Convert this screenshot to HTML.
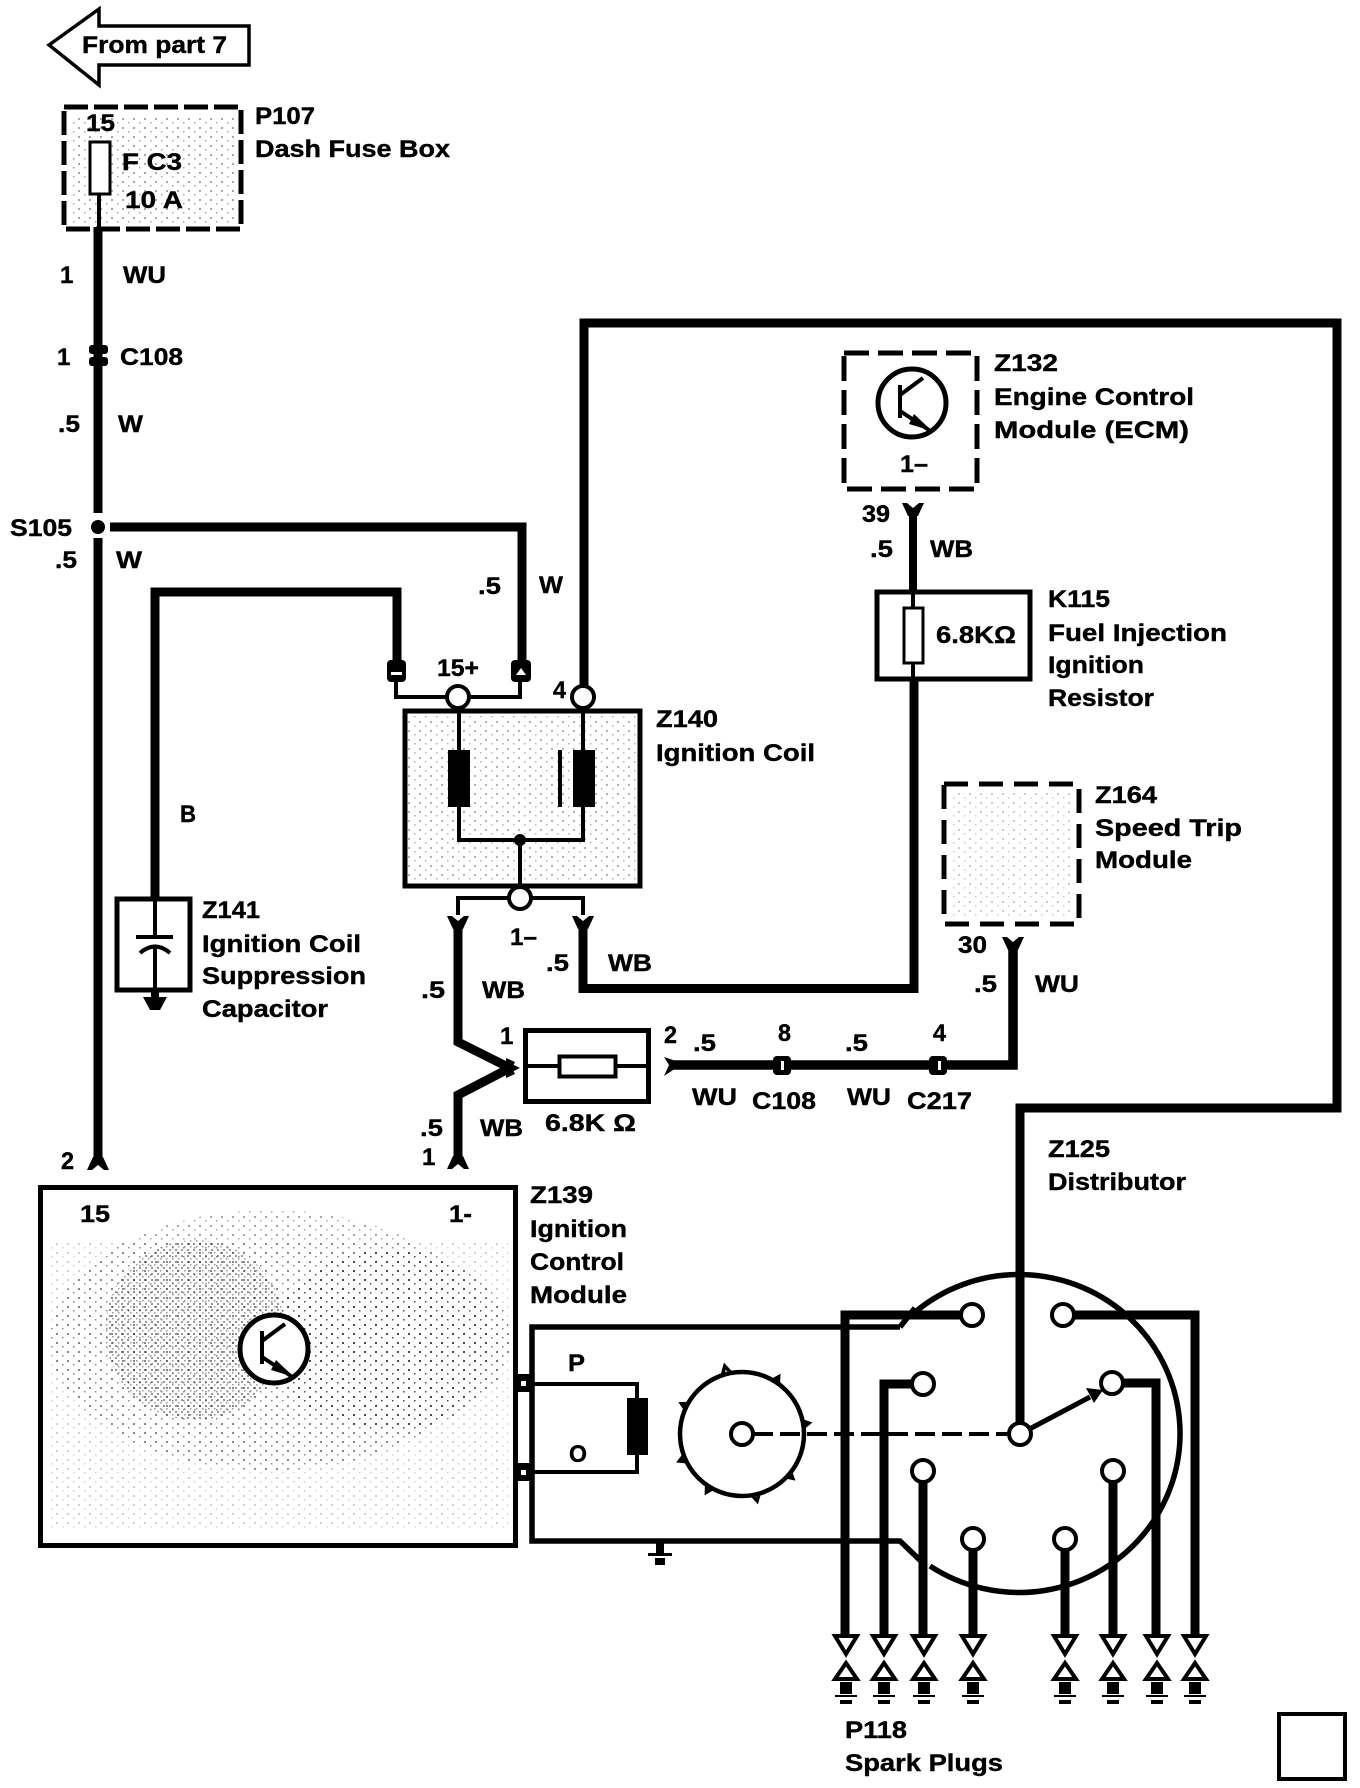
<!DOCTYPE html>
<html><head><meta charset="utf-8"><style>
html,body{margin:0;padding:0;background:#fff}
svg{display:block}
text{font-family:"Liberation Sans",Arial,sans-serif;font-weight:bold;font-size:24px;fill:#000;stroke:#000;stroke-width:.4}
.w{fill:none;stroke:#000;stroke-width:9;stroke-linejoin:miter}
.t{fill:none;stroke:#000;stroke-width:4}
.c{fill:#fff;stroke:#000;stroke-width:4}
</style></head><body>
<svg width="1360" height="1788" viewBox="0 0 1360 1788" xmlns="http://www.w3.org/2000/svg">
<defs>
<pattern id="sp" width="11" height="9" patternUnits="userSpaceOnUse"><rect x="1" y="1" width="2" height="2"/><rect x="7" y="5" width="1.5" height="1.5"/></pattern>
<pattern id="sd" width="6" height="6" patternUnits="userSpaceOnUse"><rect x="1" y="1" width="2" height="2"/><rect x="4" y="4" width="1.5" height="1.5"/></pattern>
<g id="cup"><polygon points="-11,-7 -6,-7 0,-2 6,-7 11,-7 5,6 -5,6"/></g>
<g id="cdown"><polygon points="-11,7 -6,7 0,2 6,7 11,7 5,-6 -5,-6"/></g>
<g id="tr"><circle r="34" fill="#fff" stroke="#000" stroke-width="5"/><path d="M-12,-18V15" class="t"/><path d="M-12,-8L11,-25" class="t"/><path d="M-12,8L17,27" class="t"/><polygon points="2,11 20,28 -3,21"/></g>
<g id="plug"><polygon points="-11,1636 11,1636 0,1654" fill="#fff" stroke="#000" stroke-width="4"/><polygon points="0,1663 11,1679 -11,1679" fill="#fff" stroke="#000" stroke-width="4"/><rect x="-6" y="1682" width="12" height="12"/><rect x="-11" y="1695" width="22" height="2"/><rect x="-6" y="1700" width="12" height="4"/></g>
<g id="tooth"><polygon points="-5,4 5,4 0,-5" fill="#fff" stroke="#000" stroke-width="3.500"/></g>
</defs>

<!-- stipple -->
<rect x="70" y="115" width="165" height="108" fill="url(#sp)" opacity=".35"/>
<rect x="408" y="714" width="228" height="168" fill="url(#sp)" opacity=".3"/>
<rect x="950" y="790" width="122" height="128" fill="url(#sp)" opacity=".2"/>
<rect x="48" y="1240" width="460" height="290" fill="url(#sp)" opacity=".18"/>
<ellipse cx="270" cy="1340" rx="220" ry="130" fill="url(#sp)" opacity=".35"/>
<ellipse cx="195" cy="1330" rx="90" ry="90" fill="url(#sd)" opacity=".4"/>
<ellipse cx="390" cy="1340" rx="120" ry="90" fill="url(#sp)" opacity=".45"/>

<!-- from part 7 -->
<polygon points="49,45 99,9 99,26 249,26 249,65 99,65 99,85" fill="#fff" stroke="#000" stroke-width="3.500"/>
<text x="82" y="53" textLength="145" lengthAdjust="spacingAndGlyphs">From part 7</text>

<!-- P107 -->
<rect x="64" y="107" width="177" height="122" fill="none" stroke="#000" stroke-width="5" stroke-dasharray="24 6"/>
<rect x="90" y="142" width="20" height="52" fill="#fff" stroke="#000" stroke-width="3"/>
<path d="M99,194V228" class="t"/>
<text x="86" y="131" textLength="29" lengthAdjust="spacingAndGlyphs">15</text>
<text x="122" y="170" textLength="60" lengthAdjust="spacingAndGlyphs">F C3</text>
<text x="125" y="208" textLength="58" lengthAdjust="spacingAndGlyphs">10 A</text>
<text x="255" y="124" textLength="60" lengthAdjust="spacingAndGlyphs">P107</text>
<text x="255" y="157" textLength="195" lengthAdjust="spacingAndGlyphs">Dash Fuse Box</text>

<!-- main wire -->
<path d="M98,227V513" class="w"/>
<path d="M98,538V1160" class="w"/>
<rect x="89" y="345" width="19" height="9" rx="3"/><rect x="89" y="357" width="19" height="9" rx="3"/>
<circle cx="98" cy="527" r="7"/>
<use href="#cdown" x="98" y="1163"/>
<text x="60" y="283">1</text>
<text x="123" y="283" textLength="43" lengthAdjust="spacingAndGlyphs">WU</text>
<text x="57" y="365">1</text>
<text x="120" y="365" textLength="63" lengthAdjust="spacingAndGlyphs">C108</text>
<text x="58" y="432" textLength="22" lengthAdjust="spacingAndGlyphs">.5</text>
<text x="118" y="432" textLength="25" lengthAdjust="spacingAndGlyphs">W</text>
<text x="10" y="536" textLength="62" lengthAdjust="spacingAndGlyphs">S105</text>
<text x="55" y="568" textLength="22" lengthAdjust="spacingAndGlyphs">.5</text>
<text x="116" y="568" textLength="26" lengthAdjust="spacingAndGlyphs">W</text>
<text x="61" y="1169" textLength="13" lengthAdjust="spacingAndGlyphs">2</text>

<!-- wires to coil -->
<path d="M110,527H522V660" class="w"/>
<path d="M155,900V592H397V660" class="w"/>
<text x="180" y="822" textLength="16" lengthAdjust="spacingAndGlyphs">B</text>
<text x="478" y="594" textLength="23" lengthAdjust="spacingAndGlyphs">.5</text>
<text x="539" y="593" textLength="24" lengthAdjust="spacingAndGlyphs">W</text>

<!-- top coil connectors -->
<rect x="387" y="660" width="19" height="22" rx="4"/><rect x="391" y="672" width="11" height="3" fill="#fff"/>
<rect x="511" y="660" width="20" height="22" rx="4"/><polygon points="516,675 526,675 521,668" fill="#fff"/>
<path d="M396,682V697H520V682" class="t"/>

<!-- Z140 -->
<rect x="405" y="711" width="235" height="175" fill="none" stroke="#000" stroke-width="5"/>
<circle cx="458" cy="697" r="11" class="c"/>
<circle cx="583" cy="697" r="11" class="c"/>
<path d="M459,708V840H583V708" class="t"/>
<rect x="448" y="750" width="22" height="57"/>
<rect x="573" y="750" width="22" height="57"/>
<rect x="558" y="750" width="4" height="57"/>
<circle cx="520" cy="840" r="6"/>
<path d="M520,840V887" class="t"/>
<path d="M458,915V898H583V915" class="t"/>
<circle cx="520" cy="898" r="11" class="c"/>
<text x="437" y="676" textLength="42" lengthAdjust="spacingAndGlyphs">15+</text>
<text x="553" y="698" textLength="13" lengthAdjust="spacingAndGlyphs">4</text>
<text x="510" y="945" textLength="27" lengthAdjust="spacingAndGlyphs">1&#8211;</text>
<text x="656" y="727" textLength="62" lengthAdjust="spacingAndGlyphs">Z140</text>
<text x="656" y="761" textLength="159" lengthAdjust="spacingAndGlyphs">Ignition Coil</text>

<!-- lower coil connectors + wires -->
<use href="#cup" x="458" y="923"/>
<use href="#cup" x="583" y="923"/>
<path d="M458,928V1042L510,1068L458,1095V1160" class="w"/>
<use href="#cdown" x="458" y="1162"/>
<path d="M583,928V988.500H914V680" class="w"/>
<text x="546" y="971" textLength="23" lengthAdjust="spacingAndGlyphs">.5</text>
<text x="608" y="971" textLength="44" lengthAdjust="spacingAndGlyphs">WB</text>
<text x="421" y="998" textLength="24" lengthAdjust="spacingAndGlyphs">.5</text>
<text x="482" y="998" textLength="43" lengthAdjust="spacingAndGlyphs">WB</text>
<text x="500" y="1044">1</text>
<text x="420" y="1136" textLength="23" lengthAdjust="spacingAndGlyphs">.5</text>
<text x="480" y="1136" textLength="43" lengthAdjust="spacingAndGlyphs">WB</text>
<text x="422" y="1165">1</text>
<polygon points="506,1058 515,1062 512,1068 515,1074 506,1078"/>

<!-- 6.8K box -->
<rect x="525.500" y="1030.500" width="123" height="71" fill="none" stroke="#000" stroke-width="5"/>
<path d="M528,1066H648" class="t"/>
<rect x="559.500" y="1056.500" width="56" height="20" fill="#fff" stroke="#000" stroke-width="4"/>
<text x="545" y="1131" textLength="91" lengthAdjust="spacingAndGlyphs">6.8K &#937;</text>

<!-- WU wire -->
<path d="M670,1065H1013V945" class="w" style="stroke-width:9.500"/>
<polygon points="664,1057 673,1060 678,1065 673,1070 664,1076 669,1065"/>
<rect x="773" y="1056" width="18" height="19" rx="4"/><rect x="781" y="1061" width="3" height="9" fill="#fff"/>
<rect x="929" y="1056" width="18" height="19" rx="4"/><rect x="938" y="1061" width="3" height="9" fill="#fff"/>
<text x="664" y="1043" textLength="13" lengthAdjust="spacingAndGlyphs">2</text>
<text x="693" y="1051" textLength="23" lengthAdjust="spacingAndGlyphs">.5</text>
<text x="778" y="1041" textLength="13" lengthAdjust="spacingAndGlyphs">8</text>
<text x="845" y="1051" textLength="23" lengthAdjust="spacingAndGlyphs">.5</text>
<text x="933" y="1041" textLength="13" lengthAdjust="spacingAndGlyphs">4</text>
<text x="692" y="1105" textLength="45" lengthAdjust="spacingAndGlyphs">WU</text>
<text x="752" y="1109" textLength="64" lengthAdjust="spacingAndGlyphs">C108</text>
<text x="847" y="1105" textLength="44" lengthAdjust="spacingAndGlyphs">WU</text>
<text x="907" y="1109" textLength="65" lengthAdjust="spacingAndGlyphs">C217</text>

<!-- Z164 -->
<rect x="944" y="784" width="135" height="140" fill="none" stroke="#000" stroke-width="5" stroke-dasharray="24 11"/>
<use href="#cup" x="1013" y="944"/>
<text x="958" y="953" textLength="29" lengthAdjust="spacingAndGlyphs">30</text>
<text x="974" y="992" textLength="23" lengthAdjust="spacingAndGlyphs">.5</text>
<text x="1035" y="992" textLength="44" lengthAdjust="spacingAndGlyphs">WU</text>
<text x="1095" y="803" textLength="62" lengthAdjust="spacingAndGlyphs">Z164</text>
<text x="1095" y="836" textLength="147" lengthAdjust="spacingAndGlyphs">Speed Trip</text>
<text x="1095" y="868" textLength="97" lengthAdjust="spacingAndGlyphs">Module</text>

<!-- Z132 -->
<rect x="844" y="353" width="133" height="136" fill="none" stroke="#000" stroke-width="5" stroke-dasharray="25 9"/>
<use href="#tr" x="912" y="403"/>
<text x="900" y="472" textLength="28" lengthAdjust="spacingAndGlyphs">1&#8211;</text>
<use href="#cup" x="913" y="510"/>
<path d="M913,512V592" class="w" style="stroke-width:8"/>
<text x="862" y="522" textLength="28" lengthAdjust="spacingAndGlyphs">39</text>
<text x="870" y="557" textLength="23" lengthAdjust="spacingAndGlyphs">.5</text>
<text x="930" y="557" textLength="43" lengthAdjust="spacingAndGlyphs">WB</text>
<text x="994" y="371" textLength="64" lengthAdjust="spacingAndGlyphs">Z132</text>
<text x="994" y="405" textLength="200" lengthAdjust="spacingAndGlyphs">Engine Control</text>
<text x="994" y="438" textLength="195" lengthAdjust="spacingAndGlyphs">Module (ECM)</text>

<!-- K115 -->
<rect x="877" y="592" width="153" height="87" fill="none" stroke="#000" stroke-width="5"/>
<path d="M913,592V680" class="t"/>
<rect x="904" y="608" width="19" height="55" fill="#fff" stroke="#000" stroke-width="3"/>
<text x="936" y="643" textLength="80" lengthAdjust="spacingAndGlyphs">6.8K&#937;</text>
<text x="1048" y="607" textLength="62" lengthAdjust="spacingAndGlyphs">K115</text>
<text x="1048" y="641" textLength="179" lengthAdjust="spacingAndGlyphs">Fuel Injection</text>
<text x="1048" y="673" textLength="96" lengthAdjust="spacingAndGlyphs">Ignition</text>
<text x="1048" y="706" textLength="106" lengthAdjust="spacingAndGlyphs">Resistor</text>

<!-- Z141 -->
<rect x="117" y="899" width="73" height="91" fill="none" stroke="#000" stroke-width="5"/>
<path d="M155,899V937M155,947V992" class="t"/>
<rect x="136" y="935" width="37" height="4"/>
<path d="M140,953Q155,940 170,953" fill="none" stroke="#000" stroke-width="4"/>
<rect x="151" y="990" width="8" height="10"/>
<polygon points="143,997 167,997 160,1010 150,1010"/>
<text x="202" y="918" textLength="58" lengthAdjust="spacingAndGlyphs">Z141</text>
<text x="202" y="952" textLength="159" lengthAdjust="spacingAndGlyphs">Ignition Coil</text>
<text x="202" y="984" textLength="164" lengthAdjust="spacingAndGlyphs">Suppression</text>
<text x="202" y="1017" textLength="126" lengthAdjust="spacingAndGlyphs">Capacitor</text>

<!-- Z139 -->
<rect x="40.500" y="1187.500" width="475" height="358" fill="none" stroke="#000" stroke-width="5"/>
<use href="#tr" x="274" y="1349"/>
<text x="80" y="1222" textLength="30" lengthAdjust="spacingAndGlyphs">15</text>
<text x="449" y="1222" textLength="23" lengthAdjust="spacingAndGlyphs">1-</text>
<text x="530" y="1203" textLength="63" lengthAdjust="spacingAndGlyphs">Z139</text>
<text x="530" y="1237" textLength="97" lengthAdjust="spacingAndGlyphs">Ignition</text>
<text x="530" y="1270" textLength="94" lengthAdjust="spacingAndGlyphs">Control</text>
<text x="530" y="1303" textLength="97" lengthAdjust="spacingAndGlyphs">Module</text>

<!-- module box + pickup -->
<path d="M900,1327H532V1541H900L925,1565" fill="none" stroke="#000" stroke-width="5.500"/>
<path d="M900,1327L915,1308" fill="none" stroke="#000" stroke-width="5.500"/>
<rect x="515" y="1374" width="18" height="18"/><rect x="521" y="1381" width="5" height="5" fill="#fff"/>
<rect x="515" y="1463" width="18" height="18"/><rect x="521" y="1470" width="5" height="5" fill="#fff"/>
<path d="M532,1384H637V1398M637,1455V1472H532" class="t"/>
<rect x="627" y="1398" width="21" height="57"/>
<text x="568" y="1371" textLength="17" lengthAdjust="spacingAndGlyphs">P</text>
<text x="569" y="1462" textLength="18" lengthAdjust="spacingAndGlyphs">O</text>
<rect x="656" y="1541" width="8" height="12"/><rect x="648" y="1553" width="24" height="3"/><rect x="655" y="1558" width="10" height="7"/>

<!-- rotor -->
<use href="#tooth" transform="translate(726 1371) rotate(-14)"/>
<use href="#tooth" transform="translate(776 1381) rotate(32)"/>
<use href="#tooth" transform="translate(804 1424) rotate(80)"/>
<use href="#tooth" transform="translate(789 1475) rotate(131)"/>
<use href="#tooth" transform="translate(756 1496) rotate(167)"/>
<use href="#tooth" transform="translate(709 1488) rotate(211)"/>
<use href="#tooth" transform="translate(684 1459) rotate(246)"/>
<use href="#tooth" transform="translate(686 1406) rotate(297)"/>
<circle cx="742" cy="1434" r="62" fill="#fff" stroke="#000" stroke-width="4.500"/>
<path d="M753,1434H1009" fill="none" stroke="#000" stroke-width="4" stroke-dasharray="20 7"/>
<circle cx="742" cy="1434" r="11" class="c"/>

<!-- distributor circle -->
<path d="M914,1313A161,159 0 1 1 930,1566" fill="none" stroke="#000" stroke-width="5.500"/>

<!-- outer ignition coil wire -->
<path d="M584,688V323H1337V1108H1020V1424" class="w"/>

<!-- spark plug wires -->
<path d="M972,1315H845V1636" class="w"/>
<path d="M1063,1315H1195V1636" class="w"/>
<path d="M923,1384H884V1636" class="w"/>
<path d="M1112,1383H1156V1636" class="w"/>
<path d="M923,1471V1636" class="w"/>
<path d="M1113,1471V1636" class="w"/>
<path d="M973,1539V1636" class="w"/>
<path d="M1065,1539V1636" class="w"/>

<!-- arrow -->
<path d="M1020,1434L1090,1397" fill="none" stroke="#000" stroke-width="5"/>
<polygon points="1103,1390 1086,1388 1094,1403"/>

<!-- terminals -->
<circle cx="972" cy="1315" r="11" class="c"/>
<circle cx="1063" cy="1315" r="11" class="c"/>
<circle cx="923" cy="1384" r="11" class="c"/>
<circle cx="1112" cy="1383" r="11" class="c"/>
<circle cx="923" cy="1471" r="11" class="c"/>
<circle cx="1113" cy="1471" r="11" class="c"/>
<circle cx="973" cy="1539" r="11" class="c"/>
<circle cx="1065" cy="1539" r="11" class="c"/>
<circle cx="1020" cy="1434" r="11" class="c"/>

<text x="1048" y="1157" textLength="62" lengthAdjust="spacingAndGlyphs">Z125</text>
<text x="1048" y="1190" textLength="138" lengthAdjust="spacingAndGlyphs">Distributor</text>

<!-- plugs -->
<use href="#plug" x="846"/><use href="#plug" x="884"/><use href="#plug" x="924"/><use href="#plug" x="973"/>
<use href="#plug" x="1065"/><use href="#plug" x="1113"/><use href="#plug" x="1157"/><use href="#plug" x="1195"/>
<text x="845" y="1738" textLength="62" lengthAdjust="spacingAndGlyphs">P118</text>
<text x="845" y="1771" textLength="158" lengthAdjust="spacingAndGlyphs">Spark Plugs</text>

<rect x="1279" y="1714" width="66" height="65" fill="none" stroke="#000" stroke-width="4"/>
</svg>
</body></html>
